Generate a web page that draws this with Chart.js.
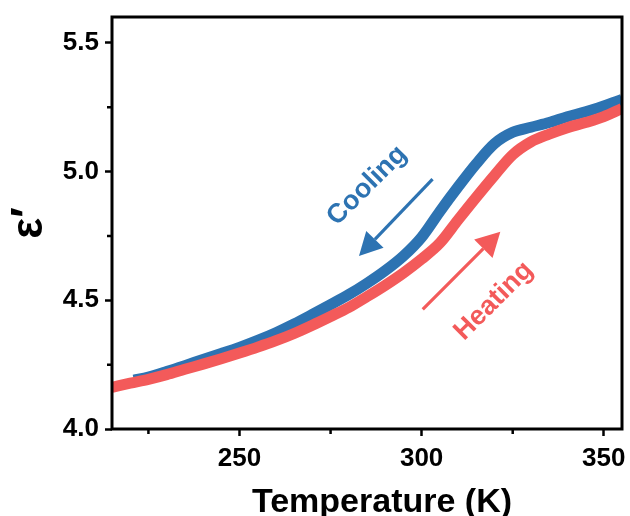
<!DOCTYPE html>
<html>
<head>
<meta charset="utf-8">
<script src="https://cdn.jsdelivr.net/npm/chart.js@4/dist/chart.umd.min.js"></script>
<style>
  body { margin: 0; background: #fff; }
  #wrap { width: 630px; height: 516px; }
</style>
</head>
<body>
<div id="wrap"><canvas id="epsChart" width="630" height="516"></canvas></div>
<script>
// heating run (red)
const tempHeat = [215, 220, 225, 230, 235, 240, 245, 250, 255, 260, 265, 270, 275, 280, 285,
                  290, 295, 300, 305, 310, 315, 320, 325, 330, 335, 340, 345, 350, 355];
const epsHeat  = [4.162, 4.178, 4.193, 4.211, 4.232, 4.252, 4.273, 4.295, 4.318, 4.343, 4.371, 4.403, 4.437, 4.472, 4.514,
                  4.558, 4.606, 4.66, 4.722, 4.812, 4.9, 4.985, 5.065, 5.115, 5.145, 5.17, 5.19, 5.213, 5.245];

// cooling run (blue)
const tempCool = [221, 225, 230, 235, 240, 245, 250, 255, 260, 265, 270, 275, 280, 285, 290,
                  295, 300, 305, 310, 315, 320, 325, 330, 335, 340, 345, 350, 355];
const epsCool  = [4.19, 4.202, 4.223, 4.246, 4.27, 4.293, 4.317, 4.344, 4.374, 4.408, 4.445, 4.483, 4.522, 4.566, 4.615,
                  4.672, 4.745, 4.845, 4.94, 5.03, 5.108, 5.152, 5.172, 5.19, 5.213, 5.232, 5.255, 5.28];

const tempTicks = [250, 300, 350];
const tempMinor = [225, 275, 325];
const epsTicks = [4.0, 4.5, 5.0, 5.5];
const epsMinor = [4.25, 4.75, 5.25];

const BLUE = '#2d73b2';
const RED = '#f35a5a';
const FONT = '"Liberation Sans", Arial, sans-serif';

function toPoints(xs, ys) {
    return xs.map((x, i) => ({ x: x, y: ys[i] }));
}

function drawArrow(ctx, x0, y0, x1, y1, color, headLen, headHalf) {
    const ang = Math.atan2(y1 - y0, x1 - x0);
    const bx = x1 - headLen * Math.cos(ang);
    const by = y1 - headLen * Math.sin(ang);
    ctx.save();
    ctx.strokeStyle = color;
    ctx.fillStyle = color;
    ctx.lineWidth = 3.2;
    ctx.beginPath();
    ctx.moveTo(x0, y0);
    ctx.lineTo(bx, by);
    ctx.stroke();
    ctx.beginPath();
    ctx.moveTo(x1, y1);
    ctx.lineTo(bx + headHalf * Math.sin(ang), by - headHalf * Math.cos(ang));
    ctx.lineTo(bx - headHalf * Math.sin(ang), by + headHalf * Math.cos(ang));
    ctx.closePath();
    ctx.fill();
    ctx.restore();
}

function drawRotatedText(ctx, text, x, y, deg, color) {
    ctx.save();
    ctx.translate(x, y);
    ctx.rotate(deg * Math.PI / 180);
    ctx.fillStyle = color;
    ctx.font = 'bold 27px ' + FONT;
    ctx.textAlign = 'center';
    ctx.textBaseline = 'middle';
    ctx.fillText(text, 0, 0);
    ctx.restore();
}

// frame, minor ticks, arrows and labels
const extras = {
    id: 'extras',
    afterDraw(chart) {
        const ctx = chart.ctx;
        const a = chart.chartArea;
        const xs = chart.scales.x;
        const ys = chart.scales.y;

        ctx.save();
        ctx.strokeStyle = '#000';
        ctx.lineWidth = 3;
        ctx.strokeRect(a.left, a.top, a.right - a.left, a.bottom - a.top);

        ctx.lineWidth = 2.5;
        ctx.beginPath();
        tempMinor.forEach(v => {
            const px = xs.getPixelForValue(v);
            ctx.moveTo(px, a.bottom);
            ctx.lineTo(px, a.bottom + 5);
        });
        epsMinor.forEach(v => {
            const py = ys.getPixelForValue(v);
            ctx.moveTo(a.left, py);
            ctx.lineTo(a.left - 5, py);
        });
        ctx.stroke();
        ctx.restore();

        drawArrow(ctx, xs.getPixelForValue(303.0), ys.getPixelForValue(4.970),
                  xs.getPixelForValue(282.8), ys.getPixelForValue(4.672), BLUE, 23, 12);
        drawArrow(ctx, xs.getPixelForValue(300.3), ys.getPixelForValue(4.465),
                  xs.getPixelForValue(321.6), ys.getPixelForValue(4.766), RED, 24, 13);

        drawRotatedText(ctx, 'Cooling', xs.getPixelForValue(285.0), ys.getPixelForValue(4.945), -45, BLUE);
        drawRotatedText(ctx, 'Heating', xs.getPixelForValue(319.8), ys.getPixelForValue(4.497), -45, RED);

        // x axis title
        ctx.save();
        ctx.fillStyle = '#000';
        ctx.font = 'bold 34px ' + FONT;
        ctx.textAlign = 'center';
        ctx.textBaseline = 'alphabetic';
        ctx.fillText('Temperature (K)', 382, 512);
        ctx.restore();
    }
};

const ctx = document.getElementById('epsChart').getContext('2d');

new Chart(ctx, {
    type: 'line',
    data: {
        datasets: [{
            label: 'Heating',
            data: toPoints(tempHeat, epsHeat),
            borderColor: RED,
            borderWidth: 11,
            pointRadius: 0,
            fill: false,
            cubicInterpolationMode: 'monotone',
            order: 0
        }, {
            label: 'Cooling',
            data: toPoints(tempCool, epsCool),
            borderColor: BLUE,
            borderWidth: 11,
            pointRadius: 0,
            fill: false,
            cubicInterpolationMode: 'monotone',
            order: 1
        }]
    },
    options: {
        responsive: false,
        animation: false,
        layout: {
            padding: { left: 0, top: 17, right: 8, bottom: 0 }
        },
        plugins: {
            legend: { display: false },
            tooltip: { enabled: false }
        },
        scales: {
            x: {
                type: 'linear',
                min: 215,
                max: 355,
                afterBuildTicks: (scale) => {
                    scale.ticks = tempTicks.map(v => ({ value: v }));
                },
                afterFit: (scale) => {
                    scale.height = 87;
                    scale.paddingLeft = 0;
                    scale.paddingRight = 0;
                },
                border: { display: false },
                grid: {
                    drawOnChartArea: false,
                    color: '#000',
                    tickColor: '#000',
                    tickLength: 7,
                    tickWidth: 2.5
                },
                ticks: {
                    color: '#000',
                    padding: 7,
                    maxRotation: 0,
                    font: { family: FONT, size: 26, weight: 'bold' },
                    callback: (v) => String(v)
                },
                title: { display: false }
            },
            y: {
                type: 'linear',
                min: 4.0,
                max: 5.6,
                afterBuildTicks: (scale) => {
                    scale.ticks = epsTicks.map(v => ({ value: v }));
                },
                afterFit: (scale) => {
                    scale.width = 112;
                    scale.paddingTop = 0;
                    scale.paddingBottom = 0;
                },
                border: { display: false },
                grid: {
                    drawOnChartArea: false,
                    color: '#000',
                    tickColor: '#000',
                    tickLength: 7,
                    tickWidth: 2.5
                },
                ticks: {
                    color: '#000',
                    padding: 6,
                    font: { family: FONT, size: 26, weight: 'bold' },
                    callback: (v) => Number(v).toFixed(1)
                },
                title: {
                    display: true,
                    text: 'ε′',
                    color: '#000',
                    padding: { top: 3, bottom: 0 },
                    font: { family: FONT, size: 44, weight: 'bold' }
                }
            }
        }
    },
    plugins: [extras]
});
</script>
</body>
</html>
